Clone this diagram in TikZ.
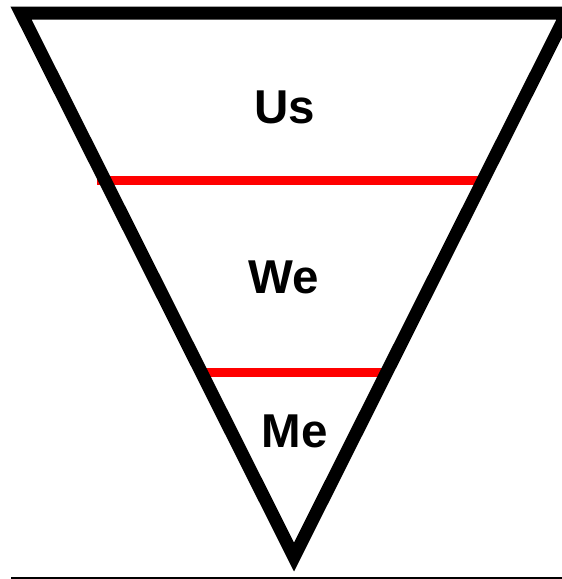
\documentclass[tikz,border=0pt]{standalone}
\usepackage{fontspec}
\setmainfont{Liberation Sans}
\usepackage{tikz}
\usetikzlibrary{positioning, calc}

\begin{document}
\begin{tikzpicture}[x=1pt, y=-1pt,
  edge/.style={draw=black, line width=13pt, line join=miter},
  band/.style={draw=red, line width=9pt},
  lvl/.style={font=\fontsize{47.5}{50}\selectfont\bfseries, anchor=base, inner sep=0pt},
  rule/.style={draw=black, line width=2pt}]
\useasboundingbox (0, 0) rectangle (562, 579);
% triangle corners (top right runs past the page edge)
\coordinate (tl) at (21, 13);
\coordinate (tr) at (567, 13);
\coordinate (tip) at (294, 557);
% band ends
\coordinate (b1l) at (97, 180); \coordinate (b1r) at (480, 180);
\coordinate (b2l) at (203, 372); \coordinate (b2r) at (383, 372);
\draw[band] (b1l) -- (b1r);
\draw[band] (b2l) -- (b2r);
\draw[edge] (tl) -- (tr) -- (tip) -- cycle;
\node[lvl] (us) at (284.5, 123) {Us};
\node[lvl] (we) at (283.5, 293) {We};
\node[lvl] (me) at (294.5, 447) {Me};
% base rule
\coordinate (r0) at (11, 578); \coordinate (r1) at (562, 578);
\draw[rule] (r0) -- (r1);
\end{tikzpicture}
\end{document}
